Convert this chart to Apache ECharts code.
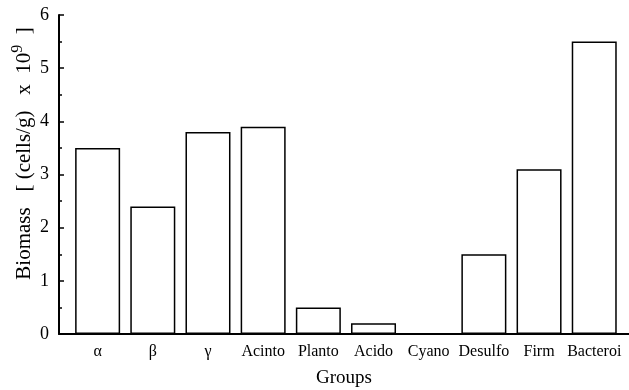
<!DOCTYPE html>
<html><head><meta charset="utf-8">
<script src="https://cdn.jsdelivr.net/npm/echarts@6/dist/echarts.min.js"></script>
<style>html,body{margin:0;padding:0;background:#fff}#c{width:629px;height:390px}</style>
</head><body><div id="c"></div>
<script>
const categories = ['α','β','γ','Acinto','Planto','Acido','Cyano','Desulfo','Firm','Bacteroi'];
const biomass = [3.5, 2.4, 3.8, 3.9, 0.5, 0.2, 0, 1.5, 3.1, 5.5];
const yTicks = [0,1,2,3,4,5,6];

const positions = categories.map((c,i)=>i+1);
const font = 'Liberation Serif';
const chart = echarts.init(document.getElementById('c'), null, {renderer:'canvas'});
chart.setOption({
  animation:false,
  backgroundColor:'#fff',
  grid:{left:59,right:0,top:15,bottom:56,containLabel:false,outerBoundsMode:'none'},
  xAxis:{
    type:'value', min:0.3, max:10.63,
    name:'Groups', nameLocation:'middle', nameGap:35,
    nameTextStyle:{fontFamily:font,fontSize:19,color:'#000'},
    axisLine:{show:true,onZero:false,lineStyle:{color:'#000',width:2}},
    axisTick:{show:false},
    splitLine:{show:false},
    axisLabel:{customValues:positions,fontFamily:font,fontSize:16,color:'#000',margin:10,
      formatter:v=>categories[Math.round(v)-1]||''}
  },
  yAxis:{
    type:'value', min:yTicks[0], max:yTicks[yTicks.length-1], interval:1,
    name:'{a|Biomass   [ (cells/g)   x  10}{s|9}{a|  ]}', nameLocation:'middle', nameGap:21, nameRotate:90,
    nameMoveOverlap:false,
    nameTextStyle:{padding:[0,0,0,42],rich:{a:{fontFamily:font,fontSize:21,color:'#000'},s:{fontFamily:font,fontSize:16,color:'#000',verticalAlign:'top',padding:[0,0,12,0]}}},
    axisLine:{show:true,lineStyle:{color:'#000',width:2}},
    axisTick:{show:true,inside:true,length:5,lineStyle:{color:'#000',width:1.5}},
    minorTick:{show:true,splitNumber:2,length:3,lineStyle:{color:'#000',width:1.5}},
    splitLine:{show:false},
    axisLabel:{fontFamily:font,fontSize:18,color:'#000',margin:10}
  },
  series:[{
    type:'bar', barWidth:45,
    data:positions.map((p,i)=>[p,biomass[i]]),
    itemStyle:{color:'#fff',borderColor:'#000',borderWidth:1.5},
    z:1
  }]
});
</script></body></html>
